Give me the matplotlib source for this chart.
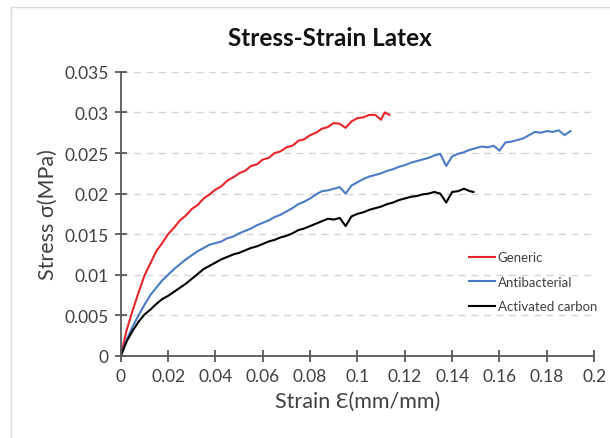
import matplotlib.pyplot as plt
from matplotlib.lines import Line2D

plt.rcParams['font.family'] = ['Lato', 'DejaVu Sans']

# Generic (red)
strain_gen = [0, 0.0025, 0.005, 0.0075, 0.01, 0.0125, 0.015, 0.0175, 0.02, 0.0225,
              0.025, 0.0275, 0.03, 0.0325, 0.035, 0.0375, 0.04, 0.0425, 0.045, 0.0475,
              0.05, 0.0525, 0.055, 0.0575, 0.06, 0.0625, 0.065, 0.0675, 0.07, 0.0725,
              0.075, 0.0775, 0.08, 0.0825, 0.085, 0.0875, 0.09, 0.0925, 0.095, 0.0975,
              0.1, 0.1025, 0.105, 0.1075, 0.11, 0.1115, 0.1135]
stress_gen = [0, 0.0032, 0.0056, 0.0078, 0.0099, 0.0114, 0.0129, 0.0139, 0.0150, 0.0158,
              0.0167, 0.0173, 0.0181, 0.0186, 0.0194, 0.0199, 0.0205, 0.0209, 0.0216, 0.0220,
              0.0225, 0.0228, 0.0234, 0.0236, 0.0242, 0.0244, 0.0250, 0.0252, 0.0257, 0.0259,
              0.0265, 0.0267, 0.0272, 0.0275, 0.0280, 0.0282, 0.0287, 0.0286, 0.0281, 0.0289,
              0.0293, 0.0294, 0.0297, 0.0297, 0.0291, 0.0300, 0.0297]

# Antibacterial (blue)
strain_anti = [0, 0.0025, 0.005, 0.0075, 0.01, 0.0125, 0.015, 0.0175, 0.02, 0.0225,
               0.025, 0.0275, 0.03, 0.0325, 0.035, 0.0375, 0.04, 0.0425, 0.045, 0.0475,
               0.05, 0.0525, 0.055, 0.0575, 0.06, 0.0625, 0.065, 0.0675, 0.07, 0.0725,
               0.075, 0.0775, 0.08, 0.0825, 0.085, 0.0875, 0.09, 0.0925, 0.095, 0.0975,
               0.1, 0.1025, 0.105, 0.1075, 0.11, 0.1125, 0.115, 0.1175, 0.12, 0.1225,
               0.125, 0.1275, 0.13, 0.1325, 0.135, 0.1375, 0.14, 0.1425, 0.145, 0.1475,
               0.15, 0.1525, 0.155, 0.1575, 0.16, 0.1625, 0.165, 0.1675, 0.17, 0.1725,
               0.175, 0.1775, 0.18, 0.1825, 0.185, 0.1875, 0.19]
stress_anti = [0, 0.0020, 0.0036, 0.0050, 0.0063, 0.0075, 0.0084, 0.0093, 0.0100, 0.0107,
               0.0113, 0.0119, 0.0124, 0.0129, 0.0133, 0.0137, 0.0139, 0.0141, 0.0145, 0.0147,
               0.0151, 0.0154, 0.0157, 0.0161, 0.0164, 0.0167, 0.0171, 0.0174, 0.0178, 0.0182,
               0.0187, 0.0190, 0.0194, 0.0199, 0.0203, 0.0204, 0.0206, 0.0208, 0.0200, 0.0210,
               0.0214, 0.0218, 0.0221, 0.0223, 0.0225, 0.0228, 0.0230, 0.0233, 0.0235, 0.0238,
               0.0240, 0.0242, 0.0244, 0.0247, 0.0249, 0.0234, 0.0246, 0.0249, 0.0251, 0.0254,
               0.0256, 0.0258, 0.0257, 0.0259, 0.0253, 0.0263, 0.0264, 0.0266, 0.0268, 0.0272,
               0.0276, 0.0275, 0.0277, 0.0276, 0.0278, 0.0272, 0.0277]

# Activated carbon (black)
strain_carb = [0, 0.0025, 0.005, 0.0075, 0.01, 0.0125, 0.015, 0.0175, 0.02, 0.0225,
               0.025, 0.0275, 0.03, 0.0325, 0.035, 0.0375, 0.04, 0.0425, 0.045, 0.0475,
               0.05, 0.0525, 0.055, 0.0575, 0.06, 0.0625, 0.065, 0.0675, 0.07, 0.0725,
               0.075, 0.0775, 0.08, 0.0825, 0.085, 0.0875, 0.09, 0.0925, 0.095, 0.0975,
               0.1, 0.1025, 0.105, 0.1075, 0.11, 0.1125, 0.115, 0.1175, 0.12, 0.1225,
               0.125, 0.1275, 0.13, 0.1325, 0.135, 0.1375, 0.14, 0.1425, 0.145, 0.1475, 0.149]
stress_carb = [0, 0.0018, 0.0031, 0.0042, 0.0051, 0.0057, 0.0064, 0.0070, 0.0074, 0.0079,
               0.0084, 0.0089, 0.0095, 0.0101, 0.0107, 0.0111, 0.0115, 0.0119, 0.0122, 0.0125,
               0.0127, 0.0130, 0.0133, 0.0135, 0.0138, 0.0141, 0.0143, 0.0146, 0.0148, 0.0151,
               0.0155, 0.0157, 0.0160, 0.0163, 0.0166, 0.0169, 0.0168, 0.0170, 0.0160, 0.0172,
               0.0175, 0.0177, 0.0180, 0.0182, 0.0184, 0.0187, 0.0189, 0.0192, 0.0194, 0.0196,
               0.0197, 0.0199, 0.0200, 0.0202, 0.0200, 0.0189, 0.0202, 0.0203, 0.0206, 0.0203, 0.0202]

fig = plt.figure(figsize=(6.1, 4.39), dpi=100)
ax = fig.add_axes([0.198, 0.187, 0.776, 0.647])

ax.plot(strain_gen, stress_gen, color='#e8262a', linewidth=1.5, label='Generic')
ax.plot(strain_anti, stress_anti, color='#4a7bc4', linewidth=1.5, label='Antibacterial')
ax.plot(strain_carb, stress_carb, color='#000000', linewidth=1.5, label='Activated carbon')

ax.set_xlim(0, 0.2)
ax.set_ylim(0, 0.035)
ax.set_xticks([0, 0.02, 0.04, 0.06, 0.08, 0.1, 0.12, 0.14, 0.16, 0.18, 0.2])
ax.set_xticklabels(['0', '0.02', '0.04', '0.06', '0.08', '0.1', '0.12', '0.14', '0.16', '0.18', '0.2'])
ax.set_yticks([0, 0.005, 0.01, 0.015, 0.02, 0.025, 0.03, 0.035])
ax.set_yticklabels(['0', '0.005', '0.01', '0.015', '0.02', '0.025', '0.03', '0.035'])

ax.grid(axis='y', color='#d4d4d4', linestyle=(0, (5, 4)), linewidth=1)
ax.set_axisbelow(True)
for s in ['top', 'right']:
    ax.spines[s].set_visible(False)
for s in ['left', 'bottom']:
    ax.spines[s].set_color('#595959')
    ax.spines[s].set_linewidth(1.3)
ax.tick_params(direction='inout', length=9, width=1.3, color='#595959',
               labelsize=12.5, labelcolor='#404040', pad=4)

ax.set_xlabel('Strain Ɛ(mm/mm)', fontsize=15.5, color='#404040', labelpad=5)
ax.set_ylabel('Stress σ(MPa)', fontsize=15.5, color='#404040', labelpad=5)
fig.text(0.541, 0.913, 'Stress-Strain Latex', fontsize=17.5, fontweight='bold',
         ha='center', va='center', color='#111111')

ax.legend(loc='upper left', bbox_to_anchor=(0.71, 0.41), frameon=False,
          fontsize=9.5, handlelength=2.0, handletextpad=0.2, labelspacing=0.95,
          labelcolor='#404040')

# light chart-area border
fig.add_artist(Line2D([11 / 610, 1], [1 - 8 / 439, 1 - 8 / 439], color='#d9d9d9', linewidth=1))
fig.add_artist(Line2D([11 / 610, 11 / 610], [0, 1 - 8 / 439], color='#d9d9d9', linewidth=1))

fig.savefig('out.png', dpi=100)
